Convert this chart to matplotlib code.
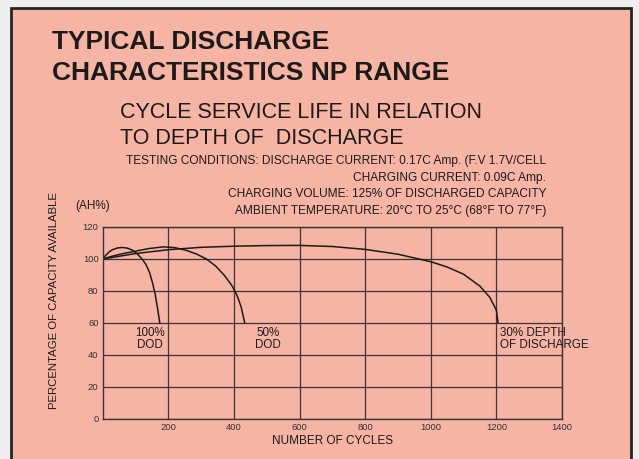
import matplotlib.pyplot as plt
from matplotlib.patches import Rectangle

# 100% depth of discharge
cyc100 = [0, 10, 20, 30, 45, 60, 75, 90, 105, 120, 132, 143, 152, 160, 167, 174]
cap100 = [100, 102.5, 104.5, 105.8, 106.9, 107.2, 106.8, 105.6, 103.3, 100, 96.5, 91.5, 85, 78, 69.5, 60]
# 50% depth of discharge
cyc50 = [0, 30, 60, 100, 140, 185, 220, 255, 285, 316, 345, 372, 395, 410, 422, 433]
cap50 = [100, 101.8, 103.3, 104.9, 106.5, 107.6, 107.1, 105.4, 103.2, 100, 95.5, 89.5, 83, 77, 70, 60]
# 30% depth of discharge
cyc30 = [0, 100, 200, 300, 400, 500, 600, 700, 800, 900, 1000, 1050, 1100, 1150, 1180, 1200, 1205]
cap30 = [100, 103.4, 105.8, 107.3, 108.0, 108.4, 108.5, 107.8, 106.0, 103.0, 98.3, 95.0, 90.5, 83.0, 76.0, 68.0, 60]

xticks = [200, 400, 600, 800, 1000, 1200, 1400]
yticks = [0, 20, 40, 60, 80, 100, 120]

conditions = ["TESTING CONDITIONS: DISCHARGE CURRENT: 0.17C Amp. (F.V 1.7V/CELL",
              "CHARGING CURRENT: 0.09C Amp.",
              "CHARGING VOLUME: 125% OF DISCHARGED CAPACITY",
              "AMBIENT TEMPERATURE: 20\u00b0C TO 25\u00b0C (68\u00b0F TO 77\u00b0F)"]

plt.rcParams['font.family'] = ['Liberation Sans', 'DejaVu Sans']
pink = "#f6b4a4"
ink = "#1e1a1a"
gridc = "#3e3434"

fig = plt.figure(figsize=(6.39, 4.59), dpi=100, facecolor="#eeeeee")
W, H = 639, 459
fig.patches.append(Rectangle((11 / W, -0.05), 620 / W, 1.05 - 8 / H,
                             transform=fig.transFigure, facecolor=pink,
                             edgecolor="#262424", lw=2, zorder=-10))

ax = fig.add_axes([102.7 / W, (H - 419) / H, (562 - 102.7) / W, (419 - 227) / H])
ax.set_facecolor(pink)
ax.plot(cyc100, cap100, color=ink, lw=1.1)
ax.plot(cyc50, cap50, color=ink, lw=1.1)
ax.plot(cyc30, cap30, color=ink, lw=1.1)

ax.set_xlim(0, 1400)
ax.set_ylim(0, 120)
ax.set_xticks(xticks)
ax.set_yticks(yticks)
ax.tick_params(length=0, labelsize=6.8, labelcolor="#333333", pad=3)
ax.grid(True, color=gridc, lw=0.9)
for s in ax.spines.values():
    s.set_color(gridc)
    s.set_linewidth(1.0)
ax.set_xlabel("NUMBER OF CYCLES", fontsize=8.5, color=ink, labelpad=2)
fig.text(54 / W, 1 - 301 / H, "PERCENTAGE OF CAPACITY AVAILABLE", fontsize=8.2, color=ink,
         rotation=90, ha="center", va="center")

ax.text(144, 50, "100%\nDOD", ha="center", va="center", fontsize=8.4, color=ink, linespacing=0.9)
ax.text(503, 50, "50%\nDOD", ha="center", va="center", fontsize=8.4, color=ink, linespacing=0.9)
ax.text(1210, 50, "30% DEPTH\nOF DISCHARGE", ha="left", va="center", fontsize=8.4, color=ink,
        linespacing=0.9, clip_on=False)

fig.text(75 / W, 1 - 206 / H, "(AH%)", fontsize=8.5, color=ink, va="center")

fig.text(52 / W, 1 - 42 / H, "TYPICAL DISCHARGE", fontsize=19, weight="bold", color=ink, va="center")
fig.text(52 / W, 1 - 73 / H, "CHARACTERISTICS NP RANGE", fontsize=19, weight="bold", color=ink, va="center")
fig.text(120 / W, 1 - 113 / H, "CYCLE SERVICE LIFE IN RELATION", fontsize=15.5, color=ink, va="center")
fig.text(120 / W, 1 - 139 / H, "TO DEPTH OF  DISCHARGE", fontsize=15.5, color=ink, va="center")
for i, line in enumerate(conditions):
    fig.text(546 / W, 1 - (161 + 16.7 * i) / H, line, fontsize=8.6, color=ink, ha="right", va="center")

fig.savefig("out.png", dpi=100, facecolor=fig.get_facecolor())
